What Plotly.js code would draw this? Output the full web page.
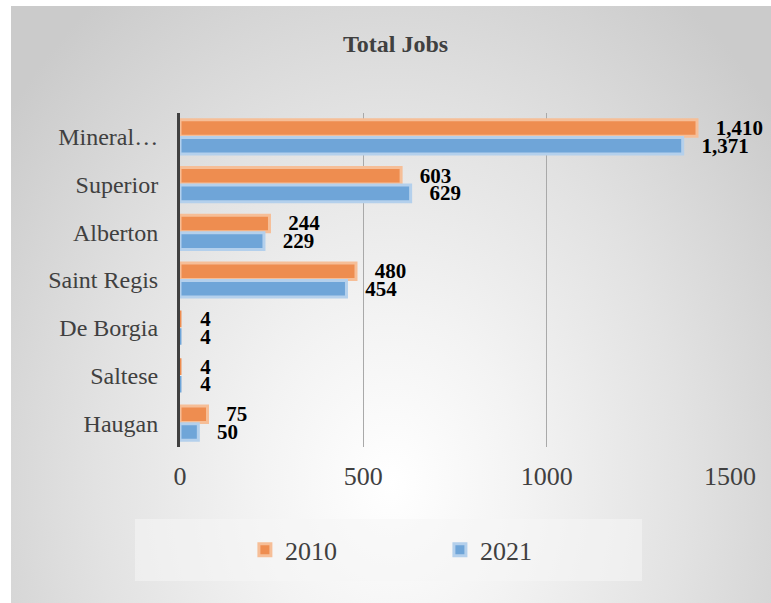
<!DOCTYPE html>
<html>
<head>
<meta charset="utf-8">
<script src="https://cdn.plot.ly/plotly-3.0.1.min.js"></script>
<style>
  html, body { margin:0; padding:0; background:#ffffff; }
  #bg { position:absolute; left:11px; top:6px; width:760px; height:597px;
        background: radial-gradient(ellipse farthest-corner at 50% 80%, #ffffff 0%, #f3f3f3 25%, #e2e2e2 55%, #cbcbcb 90%); }
  #chart { position:absolute; left:0; top:0; width:771px; height:603px; }
</style>
</head>
<body>
<div id="bg"></div>
<div id="chart"></div>
<script>
const categories = ["Mineral…", "Superior", "Alberton", "Saint Regis", "De Borgia", "Saltese", "Haugan"];
const jobs2010 = [1410, 603, 244, 480, 4, 4, 75];
const jobs2021 = [1371, 629, 229, 454, 4, 4, 50];
const seriesNames = ["2010", "2021"];
const xTicks = [0, 500, 1000, 1500];

const serif = "Liberation Serif";
const labelFont = {family: serif, size: 21, color: "#000000", weight: "bold"};
const edgeWidths = [3, 3, 3, 3, 0, 0, 3];

const traces = [
  {
    type: "bar", orientation: "h", name: seriesNames[0],
    y: categories, x: jobs2010,
    marker: {color: "#EE8D50", line: {color: "#F6BE97", width: edgeWidths}},
    texttemplate: "\u00a0\u00a0\u00a0%{x:,}", textposition: "outside",
    textfont: labelFont, cliponaxis: false, constraintext: "none",
    hoverinfo: "x+y"
  },
  {
    type: "bar", orientation: "h", name: seriesNames[1],
    y: categories, x: jobs2021,
    marker: {color: "#6FA5D8", line: {color: "#B4D0EC", width: edgeWidths}},
    texttemplate: "\u00a0\u00a0\u00a0%{x:,}", textposition: "outside",
    textfont: labelFont, cliponaxis: false, constraintext: "none",
    hoverinfo: "x+y"
  }
];

const layout = {
  width: 771, height: 603,
  paper_bgcolor: "rgba(0,0,0,0)", plot_bgcolor: "rgba(0,0,0,0)",
  font: {family: serif, color: "#404040"},
  margin: {l: 180, r: 41, t: 113, b: 156},
  title: {text: "Total Jobs", font: {family: serif, size: 24, color: "#404040", weight: "bold"},
          x: 0.513, xanchor: "center", y: 0.927, yanchor: "middle"},
  barmode: "group", bargap: 0.26, bargroupgap: 0.06,
  xaxis: {
    range: [0, 1500], tickvals: xTicks, ticktext: xTicks.map(String),
    showgrid: true, gridcolor: "#a9a9a9", gridwidth: 1,
    zeroline: false, showline: false, ticks: "",
    tickfont: {family: serif, size: 26, color: "#404040"},
    ticklabelstandoff: 11, fixedrange: true
  },
  yaxis: {
    autorange: "reversed", type: "category",
    showgrid: false, zeroline: false,
    showline: true, linecolor: "#404040", linewidth: 3,
    ticks: "", tickfont: {family: serif, size: 24, color: "#404040"},
    ticklabelstandoff: 14, fixedrange: true
  },
  showlegend: true,
  legend: {
    orientation: "h", x: 0.118, xanchor: "left", y: -0.308, yanchor: "middle",
    bgcolor: "rgba(0,0,0,0)", borderwidth: 0,
    font: {family: serif, size: 26, color: "#404040"},
    entrywidth: 150, entrywidthmode: "pixels", traceorder: "normal"
  },
  shapes: [{
    type: "rect", xref: "paper", yref: "paper",
    x0: -0.0818, x1: 0.84, y0: -0.401, y1: -0.2156,
    fillcolor: "rgba(246,246,246,0.55)", line: {width: 0}, layer: "below"
  }]
};

Plotly.newPlot("chart", traces, layout, {displayModeBar: false, staticPlot: true});
</script>
</body>
</html>
